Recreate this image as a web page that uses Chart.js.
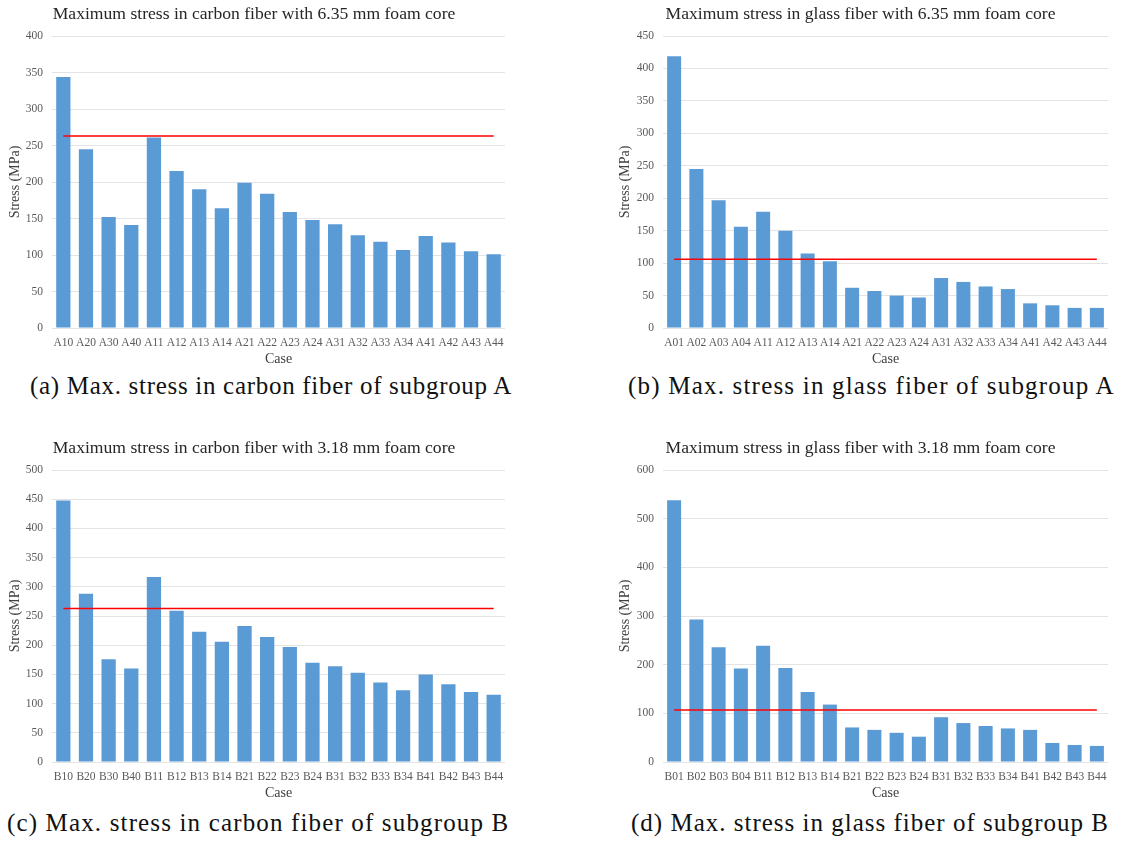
<!DOCTYPE html>
<html>
<head>
<meta charset="utf-8">
<script src="https://cdn.jsdelivr.net/npm/chart.js@4.4.1/dist/chart.umd.min.js"></script>
<style>
  body { margin: 0; background: #fff; width: 1128px; height: 841px; position: relative; overflow: hidden; }
  .panel { position: absolute; }
  .caption { position: absolute; font-family: 'Liberation Serif', serif; font-size: 25px; color: #111; white-space: nowrap; line-height: 1; }
</style>
</head>
<body>
<div class="panel" style="left:0px; top:0px; width:512px; height:372px;"><canvas id="chartA1"></canvas></div>
<div class="panel" style="left:613px; top:0px; width:502px; height:372px;"><canvas id="chartA2"></canvas></div>
<div class="panel" style="left:0px; top:434px; width:512px; height:372px;"><canvas id="chartB1"></canvas></div>
<div class="panel" style="left:613px; top:434px; width:502px; height:372px;"><canvas id="chartB2"></canvas></div>

<div class="caption" style="left:30px; top:373px; letter-spacing:0.7px;">(a) Max. stress in carbon fiber of subgroup A</div>
<div class="caption" style="left:628px; top:373px; letter-spacing:1.2px;">(b) Max. stress in glass fiber of subgroup A</div>
<div class="caption" style="left:7px; top:810px; letter-spacing:1.15px;">(c) Max. stress in carbon fiber of subgroup B</div>
<div class="caption" style="left:631px; top:810px; letter-spacing:1.0px;">(d) Max. stress in glass fiber of subgroup B</div>

<script>
// Case labels
const casesCarbonA = ['A10','A20','A30','A40','A11','A12','A13','A14','A21','A22','A23','A24','A31','A32','A33','A34','A41','A42','A43','A44'];
const casesGlassA  = ['A01','A02','A03','A04','A11','A12','A13','A14','A21','A22','A23','A24','A31','A32','A33','A34','A41','A42','A43','A44'];
const casesCarbonB = ['B10','B20','B30','B40','B11','B12','B13','B14','B21','B22','B23','B24','B31','B32','B33','B34','B41','B42','B43','B44'];
const casesGlassB  = ['B01','B02','B03','B04','B11','B12','B13','B14','B21','B22','B23','B24','B31','B32','B33','B34','B41','B42','B43','B44'];

// Max stress values (MPa)
const stressCarbonA = [344, 245, 152, 141, 261, 215, 190, 164, 199, 184, 159, 148, 142, 127, 118, 107, 126, 117, 105, 101];
const stressGlassA  = [419, 245, 197, 156, 179, 150, 115, 103, 62, 57, 50, 47, 77, 71, 64, 60, 38, 35, 31, 31];
const stressCarbonB = [448, 288, 176, 160, 317, 259, 223, 206, 233, 214, 197, 170, 164, 153, 136, 123, 150, 133, 120, 115];
const stressGlassB  = [538, 293, 236, 192, 239, 193, 144, 118, 71, 66, 60, 52, 92, 80, 74, 69, 66, 39, 35, 33];

// Strength limits (red lines)
const limitCarbon = 263;
const limitGlassA = 106;
const limitGlassB = 107;

// Y axis ranges
const yMaxCarbonA = 400, yStepCarbonA = 50;
const yMaxGlassA = 450, yStepGlassA = 50;
const yMaxCarbonB = 500, yStepCarbonB = 50;
const yMaxGlassB = 600, yStepGlassB = 100;

const FONT = "'Liberation Serif', 'Times New Roman', serif";

function makeChart(canvasId, title, labels, values, limit, yMax, yStep, yWidth, padLeft) {
    const ctx = document.getElementById(canvasId).getContext('2d');
    return new Chart(ctx, {
        data: {
            labels: labels,
            datasets: [
                {
                    type: 'line',
                    data: [{ x: labels[0], y: limit }, { x: labels[labels.length - 1], y: limit }],
                    borderColor: '#FF0000',
                    borderWidth: 1.5,
                    pointRadius: 0,
                    fill: false,
                    order: 0
                },
                {
                    type: 'bar',
                    data: values,
                    backgroundColor: '#5B9BD5',
                    borderWidth: 0,
                    categoryPercentage: 1.0,
                    barPercentage: 0.63,
                    order: 1
                }
            ]
        },
        options: {
            responsive: true,
            maintainAspectRatio: false,
            animation: false,
            layout: { padding: { left: padLeft, right: 7, top: 0, bottom: 0 } },
            plugins: {
                legend: { display: false },
                tooltip: { enabled: false },
                title: {
                    display: true,
                    text: title,
                    color: '#262626',
                    font: { family: FONT, size: 17.6, weight: 'normal', lineHeight: 1.2 },
                    padding: { top: 3.5, bottom: 11.4 }
                }
            },
            scales: {
                x: {
                    grid: { display: false, drawTicks: false },
                    border: { display: false },
                    ticks: { color: '#595959', font: { family: FONT, size: 11.5 }, padding: 8, maxRotation: 0, autoSkip: false },
                    title: { display: true, text: 'Case', color: '#404040', font: { family: FONT, size: 14 } },
                    afterFit: (scale) => { scale.height = 44; }
                },
                y: {
                    min: 0,
                    max: yMax,
                    grid: { color: '#E4E4E4', lineWidth: 1, drawTicks: false },
                    border: { display: false },
                    ticks: { stepSize: yStep, color: '#595959', font: { family: FONT, size: 11.5 }, padding: 9 },
                    title: { display: true, text: 'Stress (MPa)', color: '#404040', font: { family: FONT, size: 14 } },
                    afterFit: (scale) => { scale.width = yWidth; }
                }
            }
        }
    });
}

makeChart('chartA1', 'Maximum stress in carbon fiber with 6.35 mm foam core', casesCarbonA, stressCarbonA, limitCarbon, yMaxCarbonA, yStepCarbonA, 49, 3);
makeChart('chartA2', 'Maximum stress in glass fiber with 6.35 mm foam core', casesGlassA, stressGlassA, limitGlassA, yMaxGlassA, yStepGlassA, 50, 0);
makeChart('chartB1', 'Maximum stress in carbon fiber with 3.18 mm foam core', casesCarbonB, stressCarbonB, limitCarbon, yMaxCarbonB, yStepCarbonB, 49, 3);
makeChart('chartB2', 'Maximum stress in glass fiber with 3.18 mm foam core', casesGlassB, stressGlassB, limitGlassB, yMaxGlassB, yStepGlassB, 50, 0);
</script>
</body>
</html>
